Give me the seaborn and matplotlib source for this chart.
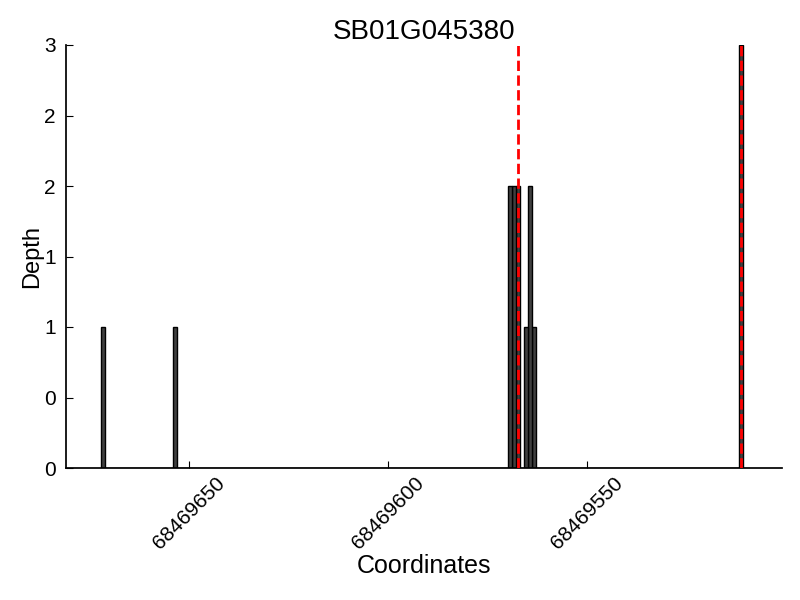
import numpy as np
import pandas as pd
import matplotlib
matplotlib.use("Agg")
import matplotlib.pyplot as plt
from matplotlib.ticker import FormatStrFormatter, MultipleLocator
import seaborn as sns

# read depth per coordinate
positions = [68469671, 68469653, 68469569, 68469568, 68469567,
             68469565, 68469564, 68469563, 68469511]
depths = [1, 1, 2, 2, 2, 1, 2, 1, 3]
marks = [68469567.5, 68469511.5]
gene = "SB01G045380"

df = pd.DataFrame({"pos": positions, "depth": depths})

sns.set_theme(style="ticks")
plt.rcParams["font.family"] = ["Liberation Sans", "DejaVu Sans"]
plt.rcParams["text.color"] = "black"
plt.rcParams["axes.labelcolor"] = "black"
plt.rcParams["xtick.color"] = "black"
plt.rcParams["ytick.color"] = "black"
plt.rcParams["axes.edgecolor"] = "black"

fig = plt.figure(figsize=(8, 6), dpi=100)
ax = fig.add_axes([0.082, 0.22, 0.896, 0.705])

sns.histplot(data=df, x="pos", weights="depth", binwidth=1,
             binrange=(min(positions), max(positions) + 1), ax=ax,
             color="#404040", edgecolor="black", linewidth=1, alpha=1)

for m in marks:
    ax.axvline(m, color="red", linestyle="--", linewidth=2, zorder=5)

ax.set_xlim(68469681, 68469501)
ax.set_ylim(0, 3)
ax.xaxis.set_major_locator(MultipleLocator(50))
ax.xaxis.set_major_formatter(FormatStrFormatter("%d"))
ax.yaxis.set_major_locator(MultipleLocator(0.5))
ax.yaxis.set_major_formatter(FormatStrFormatter("%d"))

sns.despine(ax=ax)
ax.tick_params(direction="in", labelsize=15, top=False, right=False,
               length=5, width=0.8)
ax.tick_params(axis="y", pad=7)
ax.tick_params(axis="x", pad=4)
plt.setp(ax.get_xticklabels(), rotation=45)

ax.set_title(gene, fontsize=20, pad=3)
ax.set_xlabel("Coordinates", fontsize=18, labelpad=1)
ax.set_ylabel("Depth", fontsize=17, labelpad=1)

fig.savefig("out.png", dpi=100)
